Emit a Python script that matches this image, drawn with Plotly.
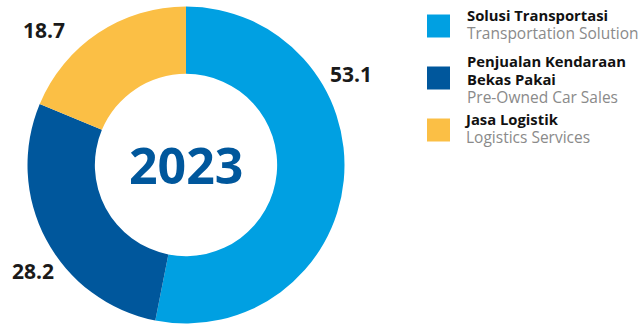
import plotly.graph_objects as go

# data
segments_id = ["Solusi Transportasi", "Penjualan Kendaraan<br>Bekas Pakai", "Jasa Logistik"]
segments_en = ["Transportation Solution", "Pre-Owned Car Sales", "Logistics Services"]
values = [53.1, 28.2, 18.7]
colors = ["#00A0E2", "#00579C", "#FBBF45"]
center_label = "2023"

W, H = 643, 325
FONT = "Open Sans"

# donut placement in pixels
cx, cy, r = 186, 165, 158.5

fig = go.Figure()
fig.add_trace(go.Pie(
    labels=[s.replace("<br>", " ") for s in segments_id],
    values=values,
    hole=0.575,
    sort=False,
    direction="clockwise",
    rotation=0,
    marker=dict(colors=colors, line=dict(width=0)),
    textinfo="none",
    hoverinfo="label+value",
    showlegend=False,
    domain=dict(x=[(cx - r) / W, (cx + r) / W], y=[(H - cy - r) / H, (H - cy + r) / H]),
))

annotations = []

# centre year
annotations.append(dict(
    x=cx / W, y=1 - cy / H, xref="paper", yref="paper", text=f"<b>{center_label}</b>",
    showarrow=False, xanchor="center", yanchor="middle",
    font=dict(family=FONT, size=50, color="#00579C"),
))

# value labels placed outside the ring
label_pos = [(351, 74), (33, 271), (44, 30)]
for v, (px, py) in zip(values, label_pos):
    annotations.append(dict(
        x=px / W, y=1 - py / H, xref="paper", yref="paper", text=f"<b>{v}</b>",
        showarrow=False, xanchor="center", yanchor="middle",
        font=dict(family=FONT, size=21, color="#1a1a1a"),
    ))

# custom legend: coloured squares + bilingual text (one block per item)
shapes = []
sq_centers = [26, 78, 130]
text_tops = [3, 49, 107]
text_x = [465, 465, 462]  # the "J" descender widens the last block's box
for i, (sid, sen) in enumerate(zip(segments_id, segments_en)):
    yc = sq_centers[i]
    shapes.append(dict(
        type="rect", xref="paper", yref="paper",
        x0=427 / W, x1=450 / W, y0=1 - (yc - 11.5) / H, y1=1 - (yc + 11.5) / H,
        fillcolor=colors[i], line=dict(width=0),
    ))
    bold = "<br>".join(f"<b><span style='font-size:14.8px'>{p}</span></b>" for p in sid.split("<br>"))
    txt = f"{bold}<br><span style='color:#8a8a8a;font-size:15.5px'>{sen}</span>"
    annotations.append(dict(
        x=text_x[i] / W, y=1 - text_tops[i] / H, xref="paper", yref="paper",
        text=txt, showarrow=False, xanchor="left", yanchor="top", align="left",
        font=dict(family=FONT, size=13.9, color="#111111"),
    ))

fig.update_layout(
    width=W, height=H,
    margin=dict(l=0, r=0, t=0, b=0),
    paper_bgcolor="white", plot_bgcolor="white",
    annotations=annotations, shapes=shapes,
)

fig.write_html("out.html", config={"displayModeBar": False},
               post_script="document.body.style.margin='0px';")
